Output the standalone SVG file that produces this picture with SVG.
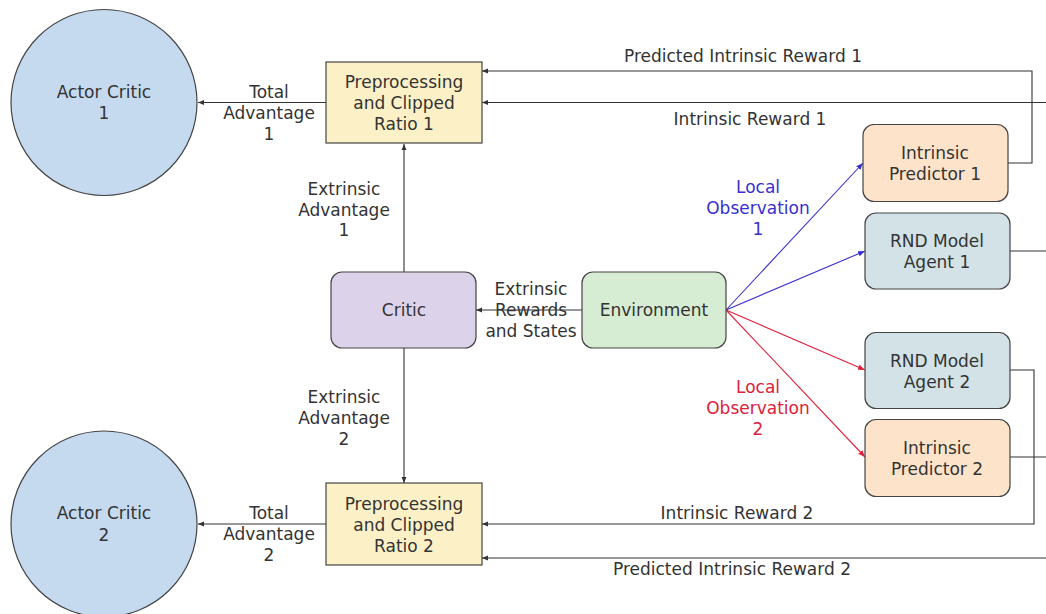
<svg xmlns="http://www.w3.org/2000/svg" width="1046" height="614" viewBox="0 0 1046 614">
  <defs>
    <marker id="arrow" viewBox="0 0 10 10" refX="10" refY="5" markerWidth="6" markerHeight="6" markerUnits="userSpaceOnUse" orient="auto">
      <path d="M0,1 L10,5 L0,9 z" fill="#333"/>
    </marker>
    <marker id="arrow-blue" viewBox="0 0 10 10" refX="10" refY="5" markerWidth="7" markerHeight="7" markerUnits="userSpaceOnUse" orient="auto">
      <path d="M0,1 L10,5 L0,9 z" fill="#3a2fd0"/>
    </marker>
    <marker id="arrow-red" viewBox="0 0 10 10" refX="10" refY="5" markerWidth="7" markerHeight="7" markerUnits="userSpaceOnUse" orient="auto">
      <path d="M0,1 L10,5 L0,9 z" fill="#e0203a"/>
    </marker>
  </defs>
  <style>
    text { font-family: "DejaVu Sans", "Liberation Sans", sans-serif; font-size: 17px; fill: #333; text-anchor: middle; dominant-baseline: central; }
    .node { stroke: #444; stroke-width: 1.2; }
    .actor { fill: #c5daef; }
    .prep { fill: #fcf0c6; }
    .critic { fill: #dcd3ea; }
    .env { fill: #d6ecd3; }
    .pred { fill: #fde3c9; }
    .rnd { fill: #d2e2e7; }
    .edge { fill: none; stroke: #333; stroke-width: 1.1; }
    .blue { stroke: #3a2fd0; }
    .red { stroke: #e0203a; }
    text.blue { fill: #3a2fd0; stroke: none; }
    text.red { fill: #e0203a; stroke: none; }
  </style>
  <rect width="1046" height="614" fill="#fff"/>

  <!-- connectors -->
  <g id="connectors">
    <path class="edge" d="M326,102.5 H198" marker-end="url(#arrow)"/>
    <path class="edge" d="M326,524 H198" marker-end="url(#arrow)"/>
    <path class="edge" d="M404,272 V144" marker-end="url(#arrow)"/>
    <path class="edge" d="M404,348 V483" marker-end="url(#arrow)"/>
    <path class="edge" d="M582,310 H476" marker-end="url(#arrow)"/>
    <path class="edge blue" d="M726,310 L863,163" marker-end="url(#arrow-blue)"/>
    <path class="edge blue" d="M726,310 L865,251" marker-end="url(#arrow-blue)"/>
    <path class="edge red" d="M726,310 L865,370" marker-end="url(#arrow-red)"/>
    <path class="edge red" d="M726,310 L865,457" marker-end="url(#arrow-red)"/>
    <!-- predicted intrinsic reward 1 -->
    <path class="edge" d="M1008,163 H1032 V71 H482" marker-end="url(#arrow)"/>
    <!-- intrinsic reward 1 (from RND agent 1, routed off the right edge) -->
    <path class="edge" d="M1046,102.5 H482" marker-end="url(#arrow)"/>
    <path class="edge" d="M1010,251 H1046"/>
    <!-- intrinsic reward 2 -->
    <path class="edge" d="M1010,370 H1034 V524 H482" marker-end="url(#arrow)"/>
    <!-- predicted intrinsic reward 2 (from predictor 2, routed off the right edge) -->
    <path class="edge" d="M1010,457 H1046"/>
    <path class="edge" d="M1046,558 H482" marker-end="url(#arrow)"/>

    <text x="269" y="92">Total</text>
    <text x="269" y="113">Advantage</text>
    <text x="269" y="134">1</text>
    <text x="269" y="513">Total</text>
    <text x="269" y="534">Advantage</text>
    <text x="269" y="555">2</text>
    <text x="344" y="189">Extrinsic</text>
    <text x="344" y="210">Advantage</text>
    <text x="344" y="230">1</text>
    <text x="344" y="397">Extrinsic</text>
    <text x="344" y="418">Advantage</text>
    <text x="344" y="439">2</text>
    <text x="531" y="289">Extrinsic</text>
    <text x="531" y="310">Rewards</text>
    <text x="531" y="331">and States</text>
    <text class="blue" x="758" y="187">Local</text>
    <text class="blue" x="758" y="208">Observation</text>
    <text class="blue" x="758" y="229">1</text>
    <text class="red" x="758" y="387">Local</text>
    <text class="red" x="758" y="408">Observation</text>
    <text class="red" x="758" y="429">2</text>
    <text x="743" y="56">Predicted Intrinsic Reward 1</text>
    <text x="750" y="119">Intrinsic Reward 1</text>
    <text x="737" y="513">Intrinsic Reward 2</text>
    <text x="732" y="569">Predicted Intrinsic Reward 2</text>
  </g>

  <g id="actor-critic-1">
    <circle class="node actor" cx="104" cy="102.5" r="93"/>
    <text x="104" y="92">Actor Critic</text>
    <text x="104" y="113">1</text>
  </g>
  <g id="actor-critic-2">
    <circle class="node actor" cx="104" cy="524" r="93"/>
    <text x="104" y="513">Actor Critic</text>
    <text x="104" y="535">2</text>
  </g>
  <g id="prep-1">
    <rect class="node prep" x="326" y="62" width="156" height="81"/>
    <text x="404" y="82">Preprocessing</text>
    <text x="404" y="103">and Clipped</text>
    <text x="404" y="124">Ratio 1</text>
  </g>
  <g id="prep-2">
    <rect class="node prep" x="326" y="483" width="156" height="82"/>
    <text x="404" y="504">Preprocessing</text>
    <text x="404" y="525">and Clipped</text>
    <text x="404" y="546">Ratio 2</text>
  </g>
  <g id="critic">
    <rect class="node critic" x="331" y="272" width="145" height="76" rx="11"/>
    <text x="404" y="310">Critic</text>
  </g>
  <g id="environment">
    <rect class="node env" x="582" y="272" width="144" height="76" rx="11"/>
    <text x="654" y="310">Environment</text>
  </g>
  <g id="intrinsic-predictor-1">
    <rect class="node pred" x="863" y="124.5" width="145" height="77" rx="11"/>
    <text x="935" y="153">Intrinsic</text>
    <text x="935" y="174">Predictor 1</text>
  </g>
  <g id="rnd-agent-1">
    <rect class="node rnd" x="865" y="213" width="145" height="76" rx="11"/>
    <text x="937" y="241">RND Model</text>
    <text x="937" y="262">Agent 1</text>
  </g>
  <g id="rnd-agent-2">
    <rect class="node rnd" x="865" y="332.5" width="145" height="76" rx="11"/>
    <text x="937" y="361">RND Model</text>
    <text x="937" y="382">Agent 2</text>
  </g>
  <g id="intrinsic-predictor-2">
    <rect class="node pred" x="865" y="419.5" width="145" height="77" rx="11"/>
    <text x="937" y="448">Intrinsic</text>
    <text x="937" y="469">Predictor 2</text>
  </g>
</svg>
